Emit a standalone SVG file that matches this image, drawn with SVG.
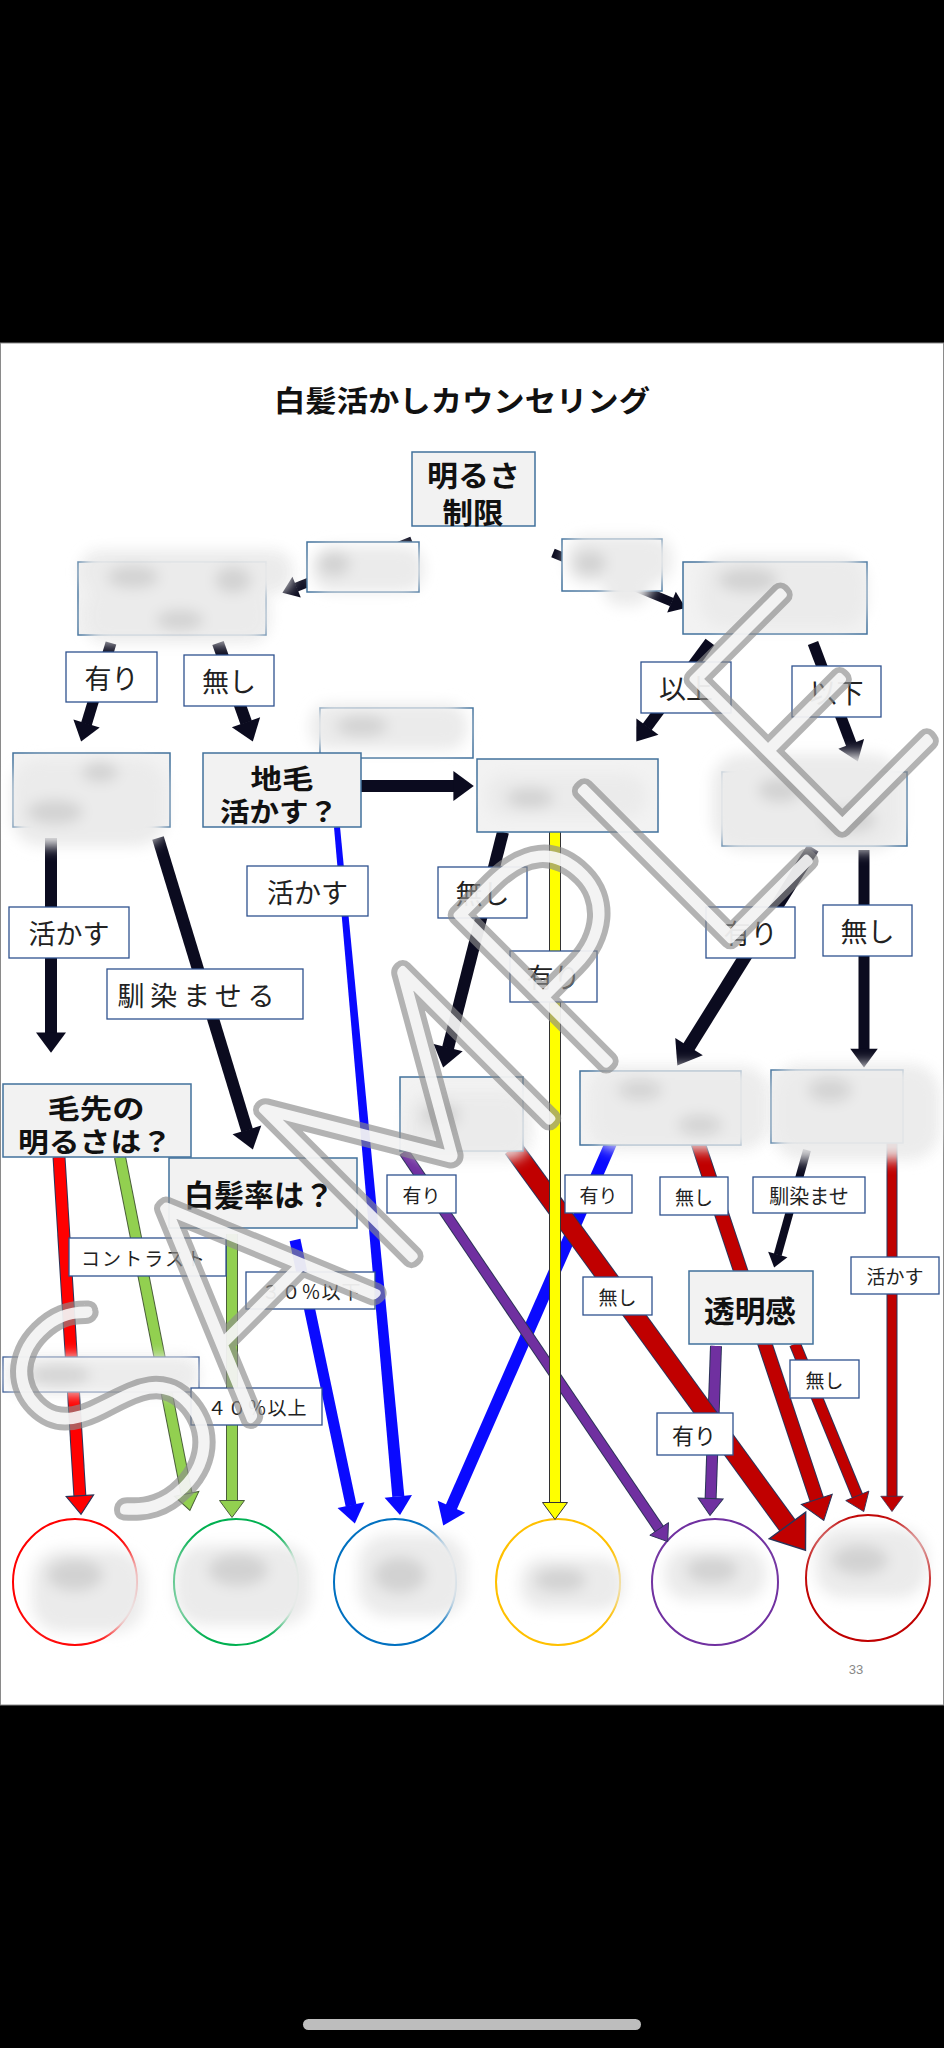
<svg xmlns="http://www.w3.org/2000/svg" width="944" height="2048" viewBox="0 0 944 2048">
<style>
.nb{fill:#f2f2f2;stroke:#41719c;stroke-width:1.5}
.nw{fill:#ffffff;stroke:#41719c;stroke-width:1.5}
.lb{fill:#ffffff;stroke:#2f528f;stroke-width:1.3}
.bt{font-family:"Noto Sans CJK JP","Noto Sans CJK SC",sans-serif;font-weight:700;fill:#111;text-anchor:middle;dominant-baseline:central}
.lt{font-family:"Noto Sans CJK JP","Noto Sans CJK SC",sans-serif;font-weight:400;fill:#222;text-anchor:middle;dominant-baseline:central}
.bo{fill:#ebebeb}
.bs{fill:#d2d2d2}
.c{fill:none;stroke-linecap:butt}
.k{stroke:#0b0b1f}
.r{stroke:#ff0000}
.g{stroke:#92d050}
.b{stroke:#0a0aff}
.y{stroke:#ffff00}
.p{stroke:#7030a0}
.d{stroke:#c00000}
.ol{stroke:#2b3358}
.olg{stroke:#4a5e3a}
.oly{stroke:#333333}
.wm{font-family:"Lato","Roboto","Inter",sans-serif;font-weight:100;font-size:300px;letter-spacing:8px;text-anchor:middle;fill:none;stroke-linejoin:round;stroke-linecap:round}
</style>
<defs>
<filter id="bl" x="-50%" y="-50%" width="200%" height="200%"><feGaussianBlur stdDeviation="7"/></filter>
<marker id="mk" viewBox="0 -1.5 2 3" refX="0.05" refY="0" markerWidth="2" markerHeight="3" markerUnits="strokeWidth" orient="auto" overflow="visible"><path d="M0,-1.25 L1.7,0 L0,1.25Z" fill="#0b0b1f"/></marker>
<marker id="mr" viewBox="0 -1.5 2 3" refX="0.05" refY="0" markerWidth="2" markerHeight="3" markerUnits="strokeWidth" orient="auto" overflow="visible"><path d="M0,-1.25 L1.7,0 L0,1.25Z" fill="#ff0000" stroke="#2b3358" stroke-width="0.1"/></marker>
<marker id="mg" viewBox="0 -1.5 2 3" refX="0.05" refY="0" markerWidth="2" markerHeight="3" markerUnits="strokeWidth" orient="auto" overflow="visible"><path d="M0,-1.25 L1.7,0 L0,1.25Z" fill="#92d050" stroke="#4a5e3a" stroke-width="0.1"/></marker>
<marker id="mb" viewBox="0 -1.5 2 3" refX="0.05" refY="0" markerWidth="2" markerHeight="3" markerUnits="strokeWidth" orient="auto" overflow="visible"><path d="M0,-1.25 L1.7,0 L0,1.25Z" fill="#0a0aff"/></marker>
<marker id="my" viewBox="0 -1.5 2 3" refX="0.05" refY="0" markerWidth="2" markerHeight="3" markerUnits="strokeWidth" orient="auto" overflow="visible"><path d="M0,-1.25 L1.7,0 L0,1.25Z" fill="#ffff00" stroke="#333" stroke-width="0.1"/></marker>
<marker id="mp" viewBox="0 -1.5 2 3" refX="0.05" refY="0" markerWidth="2" markerHeight="3" markerUnits="strokeWidth" orient="auto" overflow="visible"><path d="M0,-1.25 L1.7,0 L0,1.25Z" fill="#7030a0" stroke="#2b3358" stroke-width="0.1"/></marker>
<marker id="md" viewBox="0 -1.5 2 3" refX="0.05" refY="0" markerWidth="2" markerHeight="3" markerUnits="strokeWidth" orient="auto" overflow="visible"><path d="M0,-1.25 L1.7,0 L0,1.25Z" fill="#c00000" stroke="#2b3358" stroke-width="0.08"/></marker>
</defs>

<rect x="0" y="0" width="944" height="2048" fill="#000"/>
<rect x="0.5" y="343" width="943" height="1362" fill="#fff" stroke="#8a8a8a" stroke-width="1"/>
<rect x="303" y="2019" width="338" height="11" rx="5.5" fill="#bdbdbd"/>

<text id="title" class="bt" x="462" y="399" font-size="29" textLength="376" lengthAdjust="spacingAndGlyphs">白髪活かしカウンセリング</text>
<text id="page-no" x="856" y="1669" font-family="Liberation Sans, sans-serif" font-size="13" fill="#888" text-anchor="middle" dominant-baseline="central">33</text>

<!-- result circles -->
<g id="c-red"><ellipse cx="75" cy="1582" rx="62" ry="63" fill="#fff" stroke="#ff0000" stroke-width="2"/><g filter="url(#bl)"><rect x="32" y="1550" width="112" height="82" rx="30" class="bo"/><ellipse cx="75" cy="1575" rx="28" ry="16" class="bs"/></g></g>
<g id="c-green"><ellipse cx="236" cy="1582" rx="62" ry="63" fill="#fff" stroke="#00b050" stroke-width="2"/><g filter="url(#bl)"><rect x="175" y="1545" width="136" height="80" rx="30" class="bo"/><ellipse cx="238" cy="1570" rx="30" ry="16" class="bs"/></g></g>
<g id="c-blue"><ellipse cx="395" cy="1582" rx="61" ry="63" fill="#fff" stroke="#0070c0" stroke-width="2"/><g filter="url(#bl)"><rect x="358" y="1535" width="108" height="82" rx="30" class="bo"/><ellipse cx="400" cy="1575" rx="26" ry="18" class="bs"/></g></g>
<g id="c-yellow"><ellipse cx="558" cy="1582" rx="62" ry="63" fill="#fff" stroke="#ffc000" stroke-width="2"/><g filter="url(#bl)"><rect x="520" y="1558" width="104" height="52" rx="24" class="bo"/><ellipse cx="560" cy="1580" rx="26" ry="12" class="bs"/></g></g>
<g id="c-purple"><ellipse cx="715" cy="1582" rx="63" ry="63" fill="#fff" stroke="#7030a0" stroke-width="2"/><g filter="url(#bl)"><rect x="664" y="1548" width="102" height="52" rx="24" class="bo"/><ellipse cx="712" cy="1570" rx="26" ry="13" class="bs"/></g></g>
<g id="c-darkred"><ellipse cx="868" cy="1578" rx="62" ry="63" fill="#fff" stroke="#c00000" stroke-width="2"/><g filter="url(#bl)"><rect x="815" y="1528" width="112" height="70" rx="28" class="bo"/><ellipse cx="860" cy="1560" rx="28" ry="15" class="bs"/></g></g>

<g id="connectors">
<line class="c k" x1="412" y1="541" x2="296.2" y2="587.3" stroke-width="9" marker-end="url(#mk)"/>
<line class="c k" x1="553" y1="553" x2="671.9" y2="602.2" stroke-width="9" marker-end="url(#mk)"/>
<line class="c k" x1="111" y1="643" x2="86.4" y2="724.1" stroke-width="11" marker-end="url(#mk)"/>
<line class="c k" x1="218" y1="643" x2="246.2" y2="722.8" stroke-width="12" marker-end="url(#mk)"/>
<line class="c k" x1="710" y1="642" x2="647.1" y2="727" stroke-width="11" marker-end="url(#mk)"/>
<line class="c k" x1="813" y1="643" x2="851.4" y2="744.5" stroke-width="11" marker-end="url(#mk)"/>
<line class="c k" x1="361" y1="786" x2="454" y2="786" stroke-width="12" marker-end="url(#mk)"/>
<line class="c k" x1="51" y1="838" x2="51" y2="1033" stroke-width="12" marker-end="url(#mk)"/>
<line class="c k" x1="158" y1="838" x2="247.1" y2="1130.5" stroke-width="12" marker-end="url(#mk)"/>
<line class="c k" x1="503" y1="832" x2="448" y2="1048.2" stroke-width="12" marker-end="url(#mk)"/>
<line class="c k" x1="813" y1="848" x2="688.7" y2="1047.2" stroke-width="13" marker-end="url(#mk)"/>
<line class="c k" x1="864" y1="850" x2="864" y2="1049.3" stroke-width="11" marker-end="url(#mk)"/>
<line class="c k" x1="807" y1="1150" x2="777.7" y2="1254.9" stroke-width="8" marker-end="url(#mk)"/>

<line class="c ol" x1="59" y1="1157" x2="79.9" y2="1496.3" stroke-width="13"/>
<line class="c r" x1="59" y1="1157" x2="79.9" y2="1496.3" stroke-width="11" marker-end="url(#mr)"/>
<line class="c olg" x1="120" y1="1157" x2="186.7" y2="1494.3" stroke-width="12"/>
<line class="c g" x1="120" y1="1157" x2="186.7" y2="1494.3" stroke-width="10" marker-end="url(#mg)"/>
<line class="c olg" x1="232" y1="1234" x2="232" y2="1501" stroke-width="12"/>
<line class="c g" x1="232" y1="1234" x2="232" y2="1501" stroke-width="10" marker-end="url(#mg)"/>
<line class="c b" x1="295" y1="1240" x2="351.1" y2="1505.7" stroke-width="11" marker-end="url(#mb)"/>
<polygon points="334,827.3 340,826.7 404.3,1495.9 392.3,1496.9" fill="#0a0aff"/>
<polygon points="412,1495.1 400,1515 384.6,1497.7" fill="#0a0aff"/>
<line class="c b" x1="611" y1="1143" x2="451.2" y2="1507.3" stroke-width="12" marker-end="url(#mb)"/>
<line class="c ol" x1="404" y1="1152" x2="659.4" y2="1529.3" stroke-width="11"/>
<line class="c p" x1="404" y1="1152" x2="659.4" y2="1529.3" stroke-width="9" marker-end="url(#mp)"/>
<line class="c ol" x1="716" y1="1346" x2="710.6" y2="1499" stroke-width="12"/>
<line class="c p" x1="716" y1="1346" x2="710.6" y2="1499" stroke-width="10" marker-end="url(#mp)"/>
<line class="c ol" x1="513" y1="1148" x2="788" y2="1526.2" stroke-width="20"/>
<line class="c d" x1="513" y1="1148" x2="788" y2="1526.2" stroke-width="18" marker-end="url(#md)"/>
<line class="c ol" x1="698" y1="1143" x2="817" y2="1500" stroke-width="15"/>
<line class="c d" x1="698" y1="1143" x2="817" y2="1500" stroke-width="13" marker-end="url(#md)"/>
<line class="c ol" x1="795" y1="1344" x2="857.5" y2="1496.3" stroke-width="12"/>
<line class="c d" x1="795" y1="1344" x2="857.5" y2="1496.3" stroke-width="10" marker-end="url(#md)"/>
<line class="c ol" x1="892" y1="1143" x2="892" y2="1496.7" stroke-width="11"/>
<line class="c d" x1="892" y1="1143" x2="892" y2="1496.7" stroke-width="9" marker-end="url(#md)"/>
<line class="c oly" x1="555" y1="832" x2="555" y2="1503" stroke-width="12"/>
<line class="c y" x1="555" y1="832" x2="555" y2="1503" stroke-width="10" marker-end="url(#my)"/>
</g>

<!-- nodes -->
<g id="n-akarusa"><rect class="nb" x="412" y="452" width="123" height="74"/><text class="bt" x="473.5" y="474" font-size="29" textLength="93" lengthAdjust="spacingAndGlyphs">明るさ</text><text class="bt" x="473" y="511" font-size="29" textLength="61" lengthAdjust="spacingAndGlyphs">制限</text></g>
<g id="n-a"><rect class="nb" x="78" y="562" width="188" height="73"/><g filter="url(#bl)" opacity="0.97"><rect x="80" y="550" width="213" height="44" rx="20" class="bo"/><rect x="84" y="588" width="186" height="55" rx="22" class="bo"/><ellipse cx="133" cy="577" rx="26" ry="11" class="bs"/><ellipse cx="233" cy="580" rx="18" ry="13" class="bs"/><ellipse cx="180" cy="620" rx="24" ry="10" class="bs"/></g></g>
<g id="n-b"><rect class="nw" x="307" y="542" width="112" height="50"/><g filter="url(#bl)"><rect x="312" y="546" width="112" height="46" rx="20" class="bo"/><ellipse cx="334" cy="564" rx="16" ry="12" class="bs"/></g></g>
<g id="n-c"><rect class="nw" x="562" y="539" width="100" height="52"/><g filter="url(#bl)"><rect x="566" y="536" width="106" height="48" rx="20" class="bo"/><rect x="604" y="570" width="46" height="36" rx="16" class="bo"/><ellipse cx="590" cy="563" rx="16" ry="12" class="bs"/></g></g>
<g id="n-d"><rect class="nb" x="683" y="562" width="184" height="72"/><g filter="url(#bl)"><rect x="700" y="556" width="166" height="72" rx="26" class="bo"/><ellipse cx="748" cy="580" rx="30" ry="12" class="bs"/></g></g>
<g id="n-f"><rect class="nw" x="320" y="708" width="153" height="50"/><g filter="url(#bl)"><rect x="310" y="704" width="157" height="46" rx="20" class="bo"/><ellipse cx="362" cy="726" rx="26" ry="10" class="bs"/></g></g>
<g id="n-e"><rect class="nb" x="13" y="753" width="157" height="74"/><g filter="url(#bl)"><rect x="12" y="760" width="154" height="86" rx="28" class="bo"/><ellipse cx="100" cy="772" rx="18" ry="10" class="bs"/><ellipse cx="55" cy="812" rx="28" ry="12" class="bs"/></g></g>
<g id="n-jige"><rect class="nb" x="203" y="753" width="158" height="74"/><text class="bt" x="282" y="777" font-size="27" textLength="63" lengthAdjust="spacingAndGlyphs">地毛</text><text class="bt" x="279" y="810" font-size="27" textLength="118" lengthAdjust="spacingAndGlyphs">活かす？</text></g>
<g id="n-g"><rect class="nb" x="477" y="759" width="181" height="73"/><g filter="url(#bl)"><rect x="486" y="774" width="160" height="44" rx="20" class="bo"/><ellipse cx="530" cy="798" rx="24" ry="10" class="bs"/></g></g>
<g id="n-h"><rect class="nb" x="722" y="772" width="185" height="74"/><g filter="url(#bl)"><rect x="712" y="754" width="190" height="96" rx="30" class="bo"/><ellipse cx="780" cy="790" rx="22" ry="12" class="bs"/><ellipse cx="850" cy="820" rx="26" ry="12" class="bs"/></g></g>
<g id="n-kesaki"><rect class="nb" x="3" y="1084" width="188" height="73"/><text class="bt" x="96" y="1107" font-size="27" textLength="97" lengthAdjust="spacingAndGlyphs">毛先の</text><text class="bt" x="95" y="1140" font-size="27" textLength="154" lengthAdjust="spacingAndGlyphs">明るさは？</text></g>
<g id="n-i"><rect class="nb" x="400" y="1077" width="123" height="74"/><g filter="url(#bl)" opacity="0.93"><rect x="406" y="1092" width="126" height="68" rx="24" class="bo"/><ellipse cx="440" cy="1115" rx="20" ry="12" class="bs"/></g></g>
<g id="n-j"><rect class="nb" x="580" y="1071" width="161" height="74"/><g filter="url(#bl)" opacity="0.95"><rect x="590" y="1066" width="180" height="84" rx="28" class="bo"/><ellipse cx="640" cy="1090" rx="22" ry="10" class="bs"/><ellipse cx="700" cy="1125" rx="22" ry="10" class="bs"/></g></g>
<g id="n-k"><rect class="nb" x="771" y="1070" width="132" height="73"/><g filter="url(#bl)" opacity="0.95"><rect x="772" y="1064" width="168" height="96" rx="30" class="bo"/><ellipse cx="830" cy="1090" rx="22" ry="12" class="bs"/></g></g>
<g id="n-hakuhatsu"><rect class="nb" x="169" y="1158" width="188" height="70"/><text class="bt" x="259" y="1193" font-size="30" textLength="150" lengthAdjust="spacingAndGlyphs">白髪率は？</text></g>
<g id="n-l"><rect class="lb" x="3" y="1357" width="196" height="35"/><g filter="url(#bl)" opacity="0.95"><rect x="6" y="1356" width="193" height="38" rx="16" class="bo"/><ellipse cx="60" cy="1375" rx="30" ry="10" class="bs"/></g></g>
<g id="n-tomei"><rect class="nb" x="689" y="1271" width="124" height="73"/><text class="bt" x="750" y="1309" font-size="30" textLength="92" lengthAdjust="spacingAndGlyphs">透明感</text></g>

<!-- edge labels -->
<g id="lb-ari1"><rect class="lb" x="66" y="652" width="91" height="50"/><text class="lt" x="111.5" y="677" font-size="27">有り</text></g>
<g id="lb-nashi1"><rect class="lb" x="184" y="655" width="90" height="51"/><text class="lt" x="229" y="680.5" font-size="27">無し</text></g>
<g id="lb-ijo"><rect class="lb" x="641" y="662" width="90" height="51"/><text class="lt" x="686" y="687.5" font-size="27">以上</text></g>
<g id="lb-ika"><rect class="lb" x="792" y="666" width="89" height="51"/><text class="lt" x="836.5" y="691.5" font-size="27">以下</text></g>
<g id="lb-ikasu-b"><rect class="lb" x="247" y="866" width="121" height="50"/><text class="lt" x="307.5" y="891" font-size="27">活かす</text></g>
<g id="lb-nashi-g"><rect class="lb" x="438" y="867" width="89" height="51"/><text class="lt" x="482.5" y="892.5" font-size="27">無し</text></g>
<g id="lb-ikasu-l"><rect class="lb" x="9" y="907" width="120" height="51"/><text class="lt" x="69" y="932.5" font-size="27">活かす</text></g>
<g id="lb-ari-h"><rect class="lb" x="706" y="907" width="89" height="51"/><text class="lt" x="750.5" y="932.5" font-size="27">有り</text></g>
<g id="lb-nashi-h"><rect class="lb" x="823" y="905" width="89" height="51"/><text class="lt" x="867.5" y="930.5" font-size="27">無し</text></g>
<g id="lb-ari-y"><rect class="lb" x="510" y="951" width="87" height="51"/><text class="lt" x="553.5" y="976.5" font-size="27">有り</text></g>
<g id="lb-najimaseru"><rect class="lb" x="107" y="969" width="196" height="50"/><text class="lt" x="196" y="994" font-size="27" textLength="157" lengthAdjust="spacing">馴染ませる</text></g>
<g id="lb-ari-i"><rect class="lb" x="387" y="1175" width="69" height="38"/><text class="lt" x="421.5" y="1194" font-size="19">有り</text></g>
<g id="lb-ari-j"><rect class="lb" x="565" y="1175" width="67" height="38"/><text class="lt" x="598.5" y="1194" font-size="19">有り</text></g>
<g id="lb-nashi-j"><rect class="lb" x="660" y="1177" width="68" height="38"/><text class="lt" x="694" y="1196" font-size="19">無し</text></g>
<g id="lb-najimase"><rect class="lb" x="753" y="1177" width="112" height="36"/><text class="lt" x="809" y="1195" font-size="20">馴染ませ</text></g>
<g id="lb-contrast"><rect class="lb" x="69" y="1238" width="157" height="38"/><text class="lt" x="143" y="1257" font-size="19" textLength="124" lengthAdjust="spacing">コントラスト</text></g>
<g id="lb-ikasu-k"><rect class="lb" x="851" y="1257" width="88" height="37"/><text class="lt" x="895" y="1275.5" font-size="19">活かす</text></g>
<g id="lb-30"><rect class="lb" x="246" y="1272" width="129" height="37"/><text class="lt" x="311" y="1290.5" font-size="19" textLength="99" lengthAdjust="spacing">３０％以下</text></g>
<g id="lb-nashi-i"><rect class="lb" x="583" y="1277" width="69" height="38"/><text class="lt" x="617.5" y="1296" font-size="19">無し</text></g>
<g id="lb-nashi-t"><rect class="lb" x="790" y="1360" width="69" height="38"/><text class="lt" x="824.5" y="1379" font-size="19">無し</text></g>
<g id="lb-40"><rect class="lb" x="191" y="1388" width="131" height="37"/><text class="lt" x="257" y="1406.5" font-size="19" textLength="99" lengthAdjust="spacing">４０％以上</text></g>
<g id="lb-ari-t"><rect class="lb" x="657" y="1413" width="76" height="42"/><text class="lt" x="694" y="1434" font-size="22">有り</text></g>

<!-- watermark -->
<g id="watermark" transform="translate(462,1055) rotate(-45)">
<text class="wm" x="0" y="108" stroke="#8c8c8c" stroke-width="20" opacity="0.65">SAMPLE</text>
<text class="wm" x="0" y="108" stroke="#ffffff" stroke-width="8" opacity="0.85">SAMPLE</text>
</g>
</svg>
